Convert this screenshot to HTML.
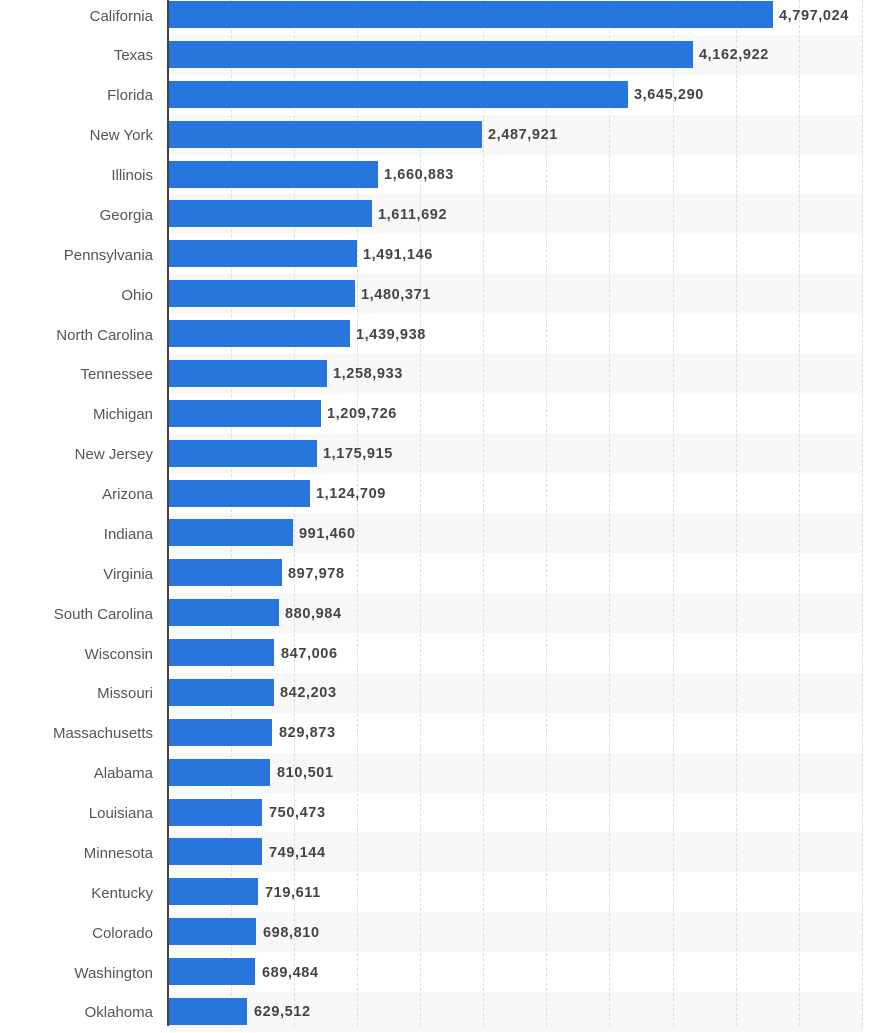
<!DOCTYPE html>
<html><head><meta charset="utf-8"><style>
body{margin:0;width:889px;height:1026px;background:#fff;position:relative;overflow:hidden;font-family:"Liberation Sans",sans-serif}
.rows{position:absolute;left:0;top:-4.9px;width:889px}
.r{position:relative;height:39.88px}
.r:nth-child(even) .bg{position:absolute;left:169px;width:694px;top:0;height:100%;background:#f8f8f8;z-index:0}
.l{position:absolute;right:736px;top:1.5px;line-height:39.88px;font-size:15px;color:#555;white-space:nowrap;z-index:2}
.b{position:absolute;left:169px;top:6px;height:27px;background:#2876dd;z-index:2}
.v{position:absolute;top:1.5px;line-height:39.88px;font-size:14.5px;font-weight:bold;color:#444;white-space:nowrap;letter-spacing:0.6px;z-index:2}
.g{position:absolute;top:0;height:1026px;border-left:1px dashed #ddd;width:0;z-index:1}
.ax{position:absolute;left:167px;top:0;width:2px;height:1026px;background:#444;z-index:3}
</style></head><body>
<div class="g" style="left:231px"></div>
<div class="g" style="left:294px"></div>
<div class="g" style="left:357px"></div>
<div class="g" style="left:420px"></div>
<div class="g" style="left:483px"></div>
<div class="g" style="left:546px"></div>
<div class="g" style="left:609px"></div>
<div class="g" style="left:673px"></div>
<div class="g" style="left:736px"></div>
<div class="g" style="left:799px"></div>
<div class="g" style="left:862px"></div>
<div class="rows">
<div class="r"><div class="bg"></div><div class="l">California</div><div class="b" style="width:604px"></div><div class="v" style="left:779px">4,797,024</div></div>
<div class="r"><div class="bg"></div><div class="l">Texas</div><div class="b" style="width:524px"></div><div class="v" style="left:699px">4,162,922</div></div>
<div class="r"><div class="bg"></div><div class="l">Florida</div><div class="b" style="width:459px"></div><div class="v" style="left:634px">3,645,290</div></div>
<div class="r"><div class="bg"></div><div class="l">New York</div><div class="b" style="width:313px"></div><div class="v" style="left:488px">2,487,921</div></div>
<div class="r"><div class="bg"></div><div class="l">Illinois</div><div class="b" style="width:209px"></div><div class="v" style="left:384px">1,660,883</div></div>
<div class="r"><div class="bg"></div><div class="l">Georgia</div><div class="b" style="width:203px"></div><div class="v" style="left:378px">1,611,692</div></div>
<div class="r"><div class="bg"></div><div class="l">Pennsylvania</div><div class="b" style="width:188px"></div><div class="v" style="left:363px">1,491,146</div></div>
<div class="r"><div class="bg"></div><div class="l">Ohio</div><div class="b" style="width:186px"></div><div class="v" style="left:361px">1,480,371</div></div>
<div class="r"><div class="bg"></div><div class="l">North Carolina</div><div class="b" style="width:181px"></div><div class="v" style="left:356px">1,439,938</div></div>
<div class="r"><div class="bg"></div><div class="l">Tennessee</div><div class="b" style="width:158px"></div><div class="v" style="left:333px">1,258,933</div></div>
<div class="r"><div class="bg"></div><div class="l">Michigan</div><div class="b" style="width:152px"></div><div class="v" style="left:327px">1,209,726</div></div>
<div class="r"><div class="bg"></div><div class="l">New Jersey</div><div class="b" style="width:148px"></div><div class="v" style="left:323px">1,175,915</div></div>
<div class="r"><div class="bg"></div><div class="l">Arizona</div><div class="b" style="width:141px"></div><div class="v" style="left:316px">1,124,709</div></div>
<div class="r"><div class="bg"></div><div class="l">Indiana</div><div class="b" style="width:124px"></div><div class="v" style="left:299px">991,460</div></div>
<div class="r"><div class="bg"></div><div class="l">Virginia</div><div class="b" style="width:113px"></div><div class="v" style="left:288px">897,978</div></div>
<div class="r"><div class="bg"></div><div class="l">South Carolina</div><div class="b" style="width:110px"></div><div class="v" style="left:285px">880,984</div></div>
<div class="r"><div class="bg"></div><div class="l">Wisconsin</div><div class="b" style="width:105px"></div><div class="v" style="left:281px">847,006</div></div>
<div class="r"><div class="bg"></div><div class="l">Missouri</div><div class="b" style="width:105px"></div><div class="v" style="left:280px">842,203</div></div>
<div class="r"><div class="bg"></div><div class="l">Massachusetts</div><div class="b" style="width:103px"></div><div class="v" style="left:279px">829,873</div></div>
<div class="r"><div class="bg"></div><div class="l">Alabama</div><div class="b" style="width:101px"></div><div class="v" style="left:277px">810,501</div></div>
<div class="r"><div class="bg"></div><div class="l">Louisiana</div><div class="b" style="width:93px"></div><div class="v" style="left:269px">750,473</div></div>
<div class="r"><div class="bg"></div><div class="l">Minnesota</div><div class="b" style="width:93px"></div><div class="v" style="left:269px">749,144</div></div>
<div class="r"><div class="bg"></div><div class="l">Kentucky</div><div class="b" style="width:89px"></div><div class="v" style="left:265px">719,611</div></div>
<div class="r"><div class="bg"></div><div class="l">Colorado</div><div class="b" style="width:87px"></div><div class="v" style="left:263px">698,810</div></div>
<div class="r"><div class="bg"></div><div class="l">Washington</div><div class="b" style="width:86px"></div><div class="v" style="left:262px">689,484</div></div>
<div class="r"><div class="bg"></div><div class="l">Oklahoma</div><div class="b" style="width:78px"></div><div class="v" style="left:254px">629,512</div></div>
</div>
<div class="ax"></div>
</body></html>
